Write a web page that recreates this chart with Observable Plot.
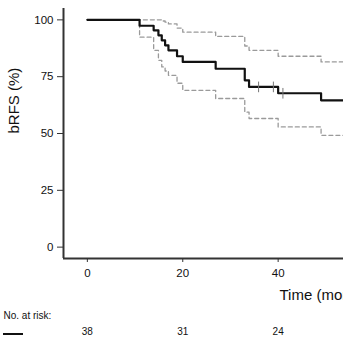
<!DOCTYPE html>
<html><head><meta charset="utf-8">
<script src="https://cdn.jsdelivr.net/npm/d3@7"></script>
<script src="https://cdn.jsdelivr.net/npm/@observablehq/plot@0.6"></script>
<style>
html,body{margin:0;padding:0;overflow:hidden;background:#fff;width:343px;height:343px}
#wrap{position:relative;width:343px;height:343px;font-family:"Liberation Sans",Arial,Helvetica,sans-serif}
#legline{position:absolute;left:3px;top:333px;width:20px;height:2px;background:#111}
</style>
</head><body><div id="wrap"><div id="chart"></div><div id="legline"></div></div>
<script>
// Kaplan–Meier step times (months) and values (%)
const months   = [0,   10.95, 13.9, 14.9, 15.6, 16.3, 17.0, 18.8, 20.0, 26.9, 33.0, 33.9, 40.0, 49.0, 60];
const bRFS     = [100, 97.4,  95.4, 93.2, 91.0, 88.8, 86.6, 84.0, 81.5, 78.5, 73.4, 70.5, 67.7, 64.6, 64.6];
const lowerCI  = [100, 92.4,  86.6, 82.2, 79.3, 77.5, 75.6, 72.1, 69.0, 65.4, 59.4, 56.6, 52.9, 49.2, 49.2];
const upperCI  = [100, 100,   100,  100,  99.5, 99.0, 98.2, 96.4, 94.6, 92.7, 88.5, 86.6, 84.0, 81.5, 81.5];
// censored observations
const censorMonths = [35.9, 39.0, 41.0];
const censorValues = [70.5, 70.5, 67.7];
// axis ticks and number at risk
const yTicks = [0, 25, 50, 75, 100];
const xTicks = [0, 20, 40];
const riskMonths = [0, 20, 40];
const riskCounts = ["38", "31", "24"];

const curve = months.map((m, i) => ({m, s: bRFS[i], lo: lowerCI[i], hi: upperCI[i]}));
const censors = censorMonths.map((m, i) => ({m, s: censorValues[i]}));
const risk = riskMonths.map((m, i) => ({m, n: riskCounts[i]}));

const vbar = {draw(ctx, size) { const h = Math.sqrt(size); ctx.moveTo(0, -h); ctx.lineTo(0, h); }};

const chart = Plot.plot({
  width: 343, height: 343,
  marginTop: 8, marginBottom: 85, marginLeft: 63, marginRight: 0,
  style: {fontFamily: '"Liberation Sans", Arial, Helvetica, sans-serif', color: "#222", background: "#fff", overflow: "visible"},
  x: {domain: [-5, 53.7]},
  y: {domain: [-5, 105]},
  marks: [
    Plot.line(curve, {x: "m", y: "lo", curve: "step-after", stroke: "#9a9a9a", strokeWidth: 1.3, strokeDasharray: "4,3", clip: true}),
    Plot.line(curve, {x: "m", y: "hi", curve: "step-after", stroke: "#9a9a9a", strokeWidth: 1.3, strokeDasharray: "4,3", clip: true}),
    Plot.line(curve, {x: "m", y: "s", curve: "step-after", stroke: "#111", strokeWidth: 2.2, clip: true}),
    Plot.dot(censors, {x: "m", y: "s", symbol: vbar, r: 3, stroke: "#777", strokeWidth: 1, fill: "none"}),
    Plot.ruleX([-5], {stroke: "#333", strokeWidth: 2}),
    Plot.ruleY([-5], {stroke: "#333", strokeWidth: 2}),
    Plot.axisY({ticks: yTicks, tickSize: 6, tickPadding: 4, fontSize: 11.5, label: null, stroke: "#333", fill: "#111"}),
    Plot.axisX({ticks: xTicks, tickSize: 4, tickPadding: 6, fontSize: 11.5, label: null, stroke: "#333", fill: "#111"}),
    Plot.text(["bRFS (%)"], {frameAnchor: "left", rotate: -90, dx: -49, fontSize: 15, fill: "#111"}),
    Plot.text(["Time (months)"], {frameAnchor: "bottom-left", textAnchor: "start", dx: 216, dy: 41, fontSize: 15, fill: "#111"}),
    Plot.text(["No. at risk:"], {frameAnchor: "bottom-left", textAnchor: "start", dx: -60, dy: 60, fontSize: 10, fill: "#111"}),
    Plot.text(risk, {x: "m", text: "n", frameAnchor: "bottom", dy: 76, fontSize: 10, fill: "#111"})
  ]
});
document.getElementById("chart").appendChild(chart);
</script>
</body></html>
